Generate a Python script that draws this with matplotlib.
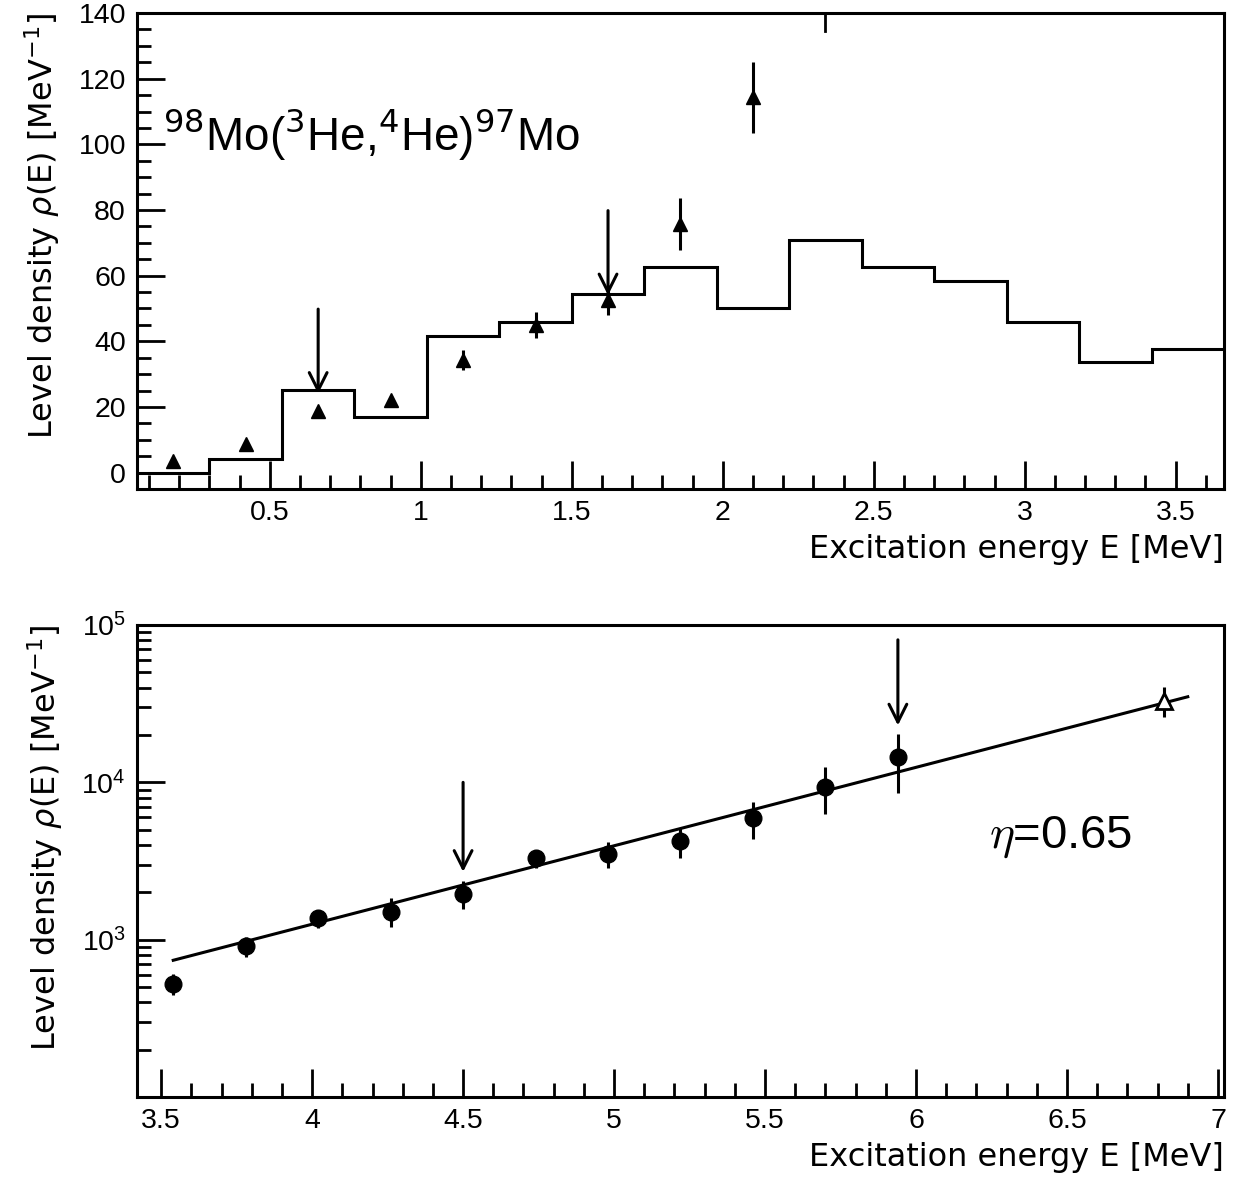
import numpy as np
import matplotlib
matplotlib.use("Agg")
import matplotlib.pyplot as plt
from matplotlib.ticker import MultipleLocator, FixedLocator, FuncFormatter, LogLocator, NullFormatter

plt.rcParams['font.family'] = ['Liberation Sans', 'DejaVu Sans']
plt.rcParams['mathtext.fontset'] = 'dejavusans'

# ---------------- top panel: 98Mo(3He,4He)97Mo, low energy -----------------
bin_edges = [0.06, 0.30, 0.54, 0.78, 1.02, 1.26, 1.50, 1.74, 1.98,
             2.22, 2.46, 2.70, 2.94, 3.18, 3.42, 3.66]
known_levels = [0.0, 4.1, 25.1, 16.8, 41.7, 45.9, 54.4, 62.6, 50.0,
                71.0, 62.6, 58.4, 46.0, 33.6, 37.6]

E_top = [0.18, 0.42, 0.66, 0.90, 1.14, 1.38, 1.62, 1.86, 2.10]
rho_top = [3.6, 8.6, 18.8, 22.1, 34.3, 45.0, 52.6, 75.8, 114.4]
err_top = [0.8, 1.0, 1.2, 1.3, 3.0, 4.0, 4.5, 8.0, 10.8]

arrows_top = [(0.66, 49.8, 24.0), (1.62, 79.8, 54.0)]  # (E, from, to)

# ---------------- bottom panel: log scale ---------------------------------
E_bot = [3.54, 3.78, 4.02, 4.26, 4.50, 4.74, 4.98, 5.22, 5.46, 5.70, 5.94]
rho_bot = [525, 915, 1375, 1500, 1960, 3300, 3525, 4220, 5970, 9380, 14500]
rho_bot_hi = [608, 1047, 1535, 1838, 2345, 3720, 4150, 5150, 7460, 12450, 20300]
rho_bot_lo = [442, 775, 1190, 1208, 1560, 2837, 2865, 3300, 4385, 6340, 8510]

E_res = [6.82]
rho_res = [32800]
rho_res_hi = [40100]
rho_res_lo = [26060]

fit_E = [3.54, 6.90]
fit_rho = [740, 35000]

arrows_bot = [(4.50, 1.0e4, 2700), (5.94, 80500, 23000)]

fig = plt.figure(figsize=(12.42, 11.86), dpi=100)
ax1 = fig.add_axes([0.1103, 0.5877, 0.8752, 0.4013])
ax2 = fig.add_axes([0.1103, 0.0750, 0.8752, 0.3980])

lw = 2.2
tick_fs = 20.5
lab_font = dict(fontsize=23, family='DejaVu Sans')


def style_axes(ax):
    for s in ax.spines.values():
        s.set_linewidth(lw)
    ax.tick_params(which='both', direction='in', top=False, right=False,
                   width=2, labelsize=tick_fs)
    ax.tick_params(which='major', length=20, pad=8)
    ax.tick_params(which='minor', length=10)


fmt = FuncFormatter(lambda v, p: '%g' % v)

# ---- top ----
ax1.stairs(known_levels, bin_edges, baseline=None, color='black', lw=lw)
ax1.errorbar(E_top, rho_top, yerr=err_top, fmt='^', color='black',
             ms=10, elinewidth=2.2, capsize=0)
for e, y0, y1 in arrows_top:
    ax1.annotate('', xy=(e, y1), xytext=(e, y0),
                 arrowprops=dict(arrowstyle='->', lw=2.2, color='black',
                                 mutation_scale=32, shrinkA=0, shrinkB=0))
ax1.set_xlim(0.06, 3.66)
ax1.set_ylim(-5, 140)
ax1.xaxis.set_major_locator(MultipleLocator(0.5))
ax1.xaxis.set_minor_locator(MultipleLocator(0.1))
ax1.yaxis.set_major_locator(MultipleLocator(20))
ax1.yaxis.set_minor_locator(MultipleLocator(5))
ax1.xaxis.set_major_formatter(fmt)
style_axes(ax1)
ax1.axvline(2.34, ymin=1 - 18 / 476, ymax=1, color='black', lw=2)
ax1.text(0.145, 103, r'$^{98}$Mo($^{3}$He,$^{4}$He)$^{97}$Mo', fontsize=33,
         ha='left', va='center')
ax1.set_xlabel('Excitation energy E [MeV]', loc='right', labelpad=6, **lab_font)
ax1.set_ylabel(r'Level density $\rho$(E) [MeV$^{-1}$]', loc='top', labelpad=12, **lab_font)

# ---- bottom ----
ax2.set_yscale('log')
yerr_b = [np.array(rho_bot) - np.array(rho_bot_lo), np.array(rho_bot_hi) - np.array(rho_bot)]
ax2.errorbar(E_bot, rho_bot, yerr=yerr_b, fmt='o', color='black', ms=12,
             elinewidth=2.2, capsize=0)
yerr_r = [np.array(rho_res) - np.array(rho_res_lo), np.array(rho_res_hi) - np.array(rho_res)]
ax2.errorbar(E_res, rho_res, yerr=yerr_r, fmt='^', color='black', mfc='white',
             mew=2, ms=12, elinewidth=2.2, capsize=0)
ax2.plot(fit_E, fit_rho, color='black', lw=lw)
for e, y0, y1 in arrows_bot:
    ax2.annotate('', xy=(e, y1), xytext=(e, y0),
                 arrowprops=dict(arrowstyle='->', lw=2.2, color='black',
                                 mutation_scale=32, shrinkA=0, shrinkB=0))
ax2.set_xlim(3.42, 7.02)
ax2.set_ylim(100, 1e5)
ax2.xaxis.set_major_locator(MultipleLocator(0.5))
ax2.xaxis.set_minor_locator(MultipleLocator(0.1))
ax2.xaxis.set_major_formatter(fmt)
ax2.yaxis.set_major_locator(FixedLocator([1e3, 1e4, 1e5]))
ax2.yaxis.set_minor_locator(LogLocator(base=10, subs=np.arange(2, 10)))
ax2.yaxis.set_minor_formatter(NullFormatter())
style_axes(ax2)
ax2.text(6.48, 4500, r'$\eta$=0.65', fontsize=34, ha='center', va='center',
         math_fontfamily='cm')
ax2.set_xlabel('Excitation energy E [MeV]', loc='right', labelpad=6, **lab_font)
ax2.set_ylabel(r'Level density $\rho$(E) [MeV$^{-1}$]', loc='top', labelpad=12, **lab_font)

fig.savefig('out.png', dpi=100)
